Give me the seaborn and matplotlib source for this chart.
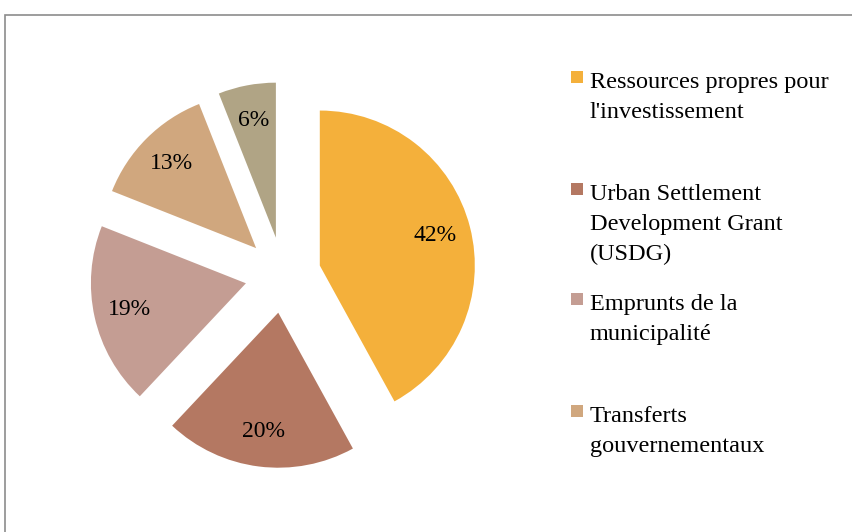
import matplotlib
matplotlib.use("Agg")
import matplotlib.pyplot as plt
import matplotlib.patches as mpatches
import seaborn as sns

# data
categories = [
    "Ressources propres pour\nl'investissement",
    "Urban Settlement\nDevelopment Grant\n(USDG)",
    "Emprunts de la\nmunicipalité",
    "Transferts\ngouvernementaux",
    "Autres",
]
shares = [42, 20, 19, 13, 6]
colors = ["#F4B03B", "#B47862", "#C49D93", "#D0A77E", "#B0A485"]
legend_shown = 4  # the last entry is cut off in the original

sns.set_theme(style="white")
plt.rcParams["font.family"] = ["Liberation Serif", "DejaVu Serif"]
plt.rcParams["text.color"] = "black"

W, H = 853, 532
fig = plt.figure(figsize=(W / 100, H / 100), dpi=100)
ax = fig.add_axes([0, 0, 1, 1])

wedges, texts, autotexts = ax.pie(
    shares, colors=colors, startangle=90, counterclock=False,
    center=(283, H - 275), radius=155, explode=[38] * len(shares),
    autopct="%1.0f%%", pctdistance=0.77,
    wedgeprops=dict(linewidth=0),
    textprops=dict(fontsize=17, color="black"),
)
ax.set_xlim(0, W)
ax.set_ylim(0, H)
ax.axis("off")

# legend drawn by hand so the square sits on the first text line
tops = [71, 183, 293, 405]
for i in range(legend_shown):
    y = 1 - tops[i] / H
    fig.patches.append(mpatches.Rectangle((571 / W, y - 12 / H), 12 / W, 12 / H,
                                          transform=fig.transFigure,
                                          facecolor=colors[i], edgecolor="none"))
    fig.text(590 / W, y - 1 / H, categories[i], fontsize=17.5, va="top", ha="left",
             linespacing=1.55, color="black")

# outer frame
fig.patches.append(mpatches.Rectangle((5.5 / W, -0.1), 1.2, 1.1 - 14.5 / H,
                                      transform=fig.transFigure, fill=False,
                                      edgecolor="#8c8c8c", linewidth=1.2))

fig.savefig("out.png", dpi=100)
